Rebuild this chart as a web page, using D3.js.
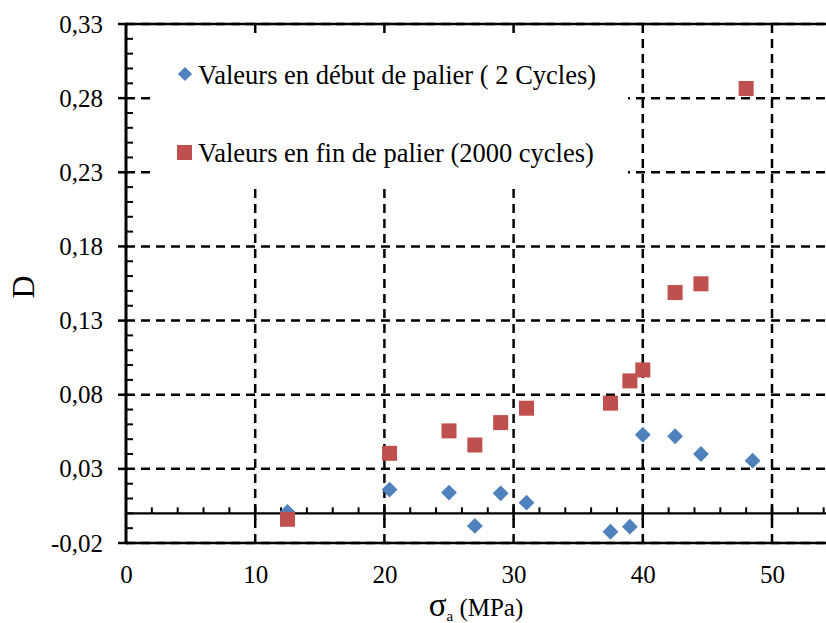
<!DOCTYPE html>
<html><head><meta charset="utf-8">
<script src="https://cdn.jsdelivr.net/npm/d3@7"></script>
<style>html,body{margin:0;padding:0;background:#fff;}
svg{display:block;}
svg text{font-family:"Liberation Serif","Times New Roman",Times,serif !important;}
</style>
</head><body>
<svg id="chart" width="826" height="623"></svg>
<script>
// ---- data ----
const xStart = [12.5, 20.4, 25, 27, 29, 31, 37.5, 39, 40, 42.5, 44.5, 48.5];
const dStart = [0.001, 0.016, 0.014, -0.0085, 0.0135, 0.0072, -0.0124, -0.009, 0.053, 0.052, 0.040, 0.0355];
const xEnd = [12.5, 20.4, 25, 27, 29, 31, 37.5, 39, 40, 42.5, 44.5, 48];
const dEnd = [-0.004, 0.0405, 0.0556, 0.0461, 0.0612, 0.0709, 0.0743, 0.0893, 0.0967, 0.1489, 0.1548, 0.2865];
const seriesNames = ["Valeurs en début de palier ( 2 Cycles)", "Valeurs en fin de palier (2000 cycles)"];
const xTicks = [0, 10, 20, 30, 40, 50];
const xTickLabels = ["0", "10", "20", "30", "40", "50"];
const yTicks = [-0.02, 0.03, 0.08, 0.13, 0.18, 0.23, 0.28, 0.33];
const yTickLabels = ["-0,02", "0,03", "0,08", "0,13", "0,18", "0,23", "0,28", "0,33"];
const yTitle = "D";

// ---- layout ----
const svg = d3.select("#chart");
const L = 126, R = 126 + 12.92 * 55, T = 24, B = 543;
const x = d3.scaleLinear().domain([0, 55]).range([L, R]);
const y = d3.scaleLinear().domain([-0.02, 0.33]).range([B, T]);
const blue = "#4F81BD", red = "#C0504D";
const FONT = '"Liberation Serif","Times New Roman",Times,serif';

const grid = svg.append("g");
grid.selectAll("line.h").data(yTicks).join("line")
  .attr("x1", L).attr("x2", 826).attr("y1", d => y(d)).attr("y2", d => y(d))
  .attr("stroke", "#000").attr("stroke-width", 2.5).attr("stroke-dasharray", "9,6");
grid.selectAll("line.v").data(xTicks.filter(d => d > 0)).join("line")
  .attr("x1", d => x(d)).attr("x2", d => x(d)).attr("y1", T).attr("y2", B)
  .attr("stroke", "#000").attr("stroke-width", 2.5).attr("stroke-dasharray", "9,6");

svg.append("line").attr("x1", L).attr("x2", 826).attr("y1", T).attr("y2", T).attr("stroke", "#000").attr("stroke-width", 2.5);
svg.append("line").attr("x1", L).attr("x2", 826).attr("y1", B).attr("y2", B).attr("stroke", "#000").attr("stroke-width", 2.5);

// legend background (covers grid)
svg.append("rect").attr("x", 150).attr("y", 37).attr("width", 478).attr("height", 152).attr("fill", "#fff");

// x axis at y=0
const y0 = y(0);
svg.append("line").attr("x1", L).attr("x2", 826).attr("y1", y0).attr("y2", y0).attr("stroke", "#000").attr("stroke-width", 2.2);
const minorX = d3.range(2, 56, 2).filter(d => d % 10 !== 0);
svg.selectAll("line.mx").data(minorX).join("line")
  .attr("x1", d => x(d)).attr("x2", d => x(d)).attr("y1", y0 - 6).attr("y2", y0)
  .attr("stroke", "#000").attr("stroke-width", 2);
svg.selectAll("line.Mx").data(xTicks.filter(d => d > 0)).join("line")
  .attr("x1", d => x(d)).attr("x2", d => x(d)).attr("y1", y0 - 7).attr("y2", y0 + 7)
  .attr("stroke", "#000").attr("stroke-width", 2.5);

const xAxis = d3.axisBottom(x).tickValues(xTicks).tickSize(0).tickPadding(0)
  .tickFormat((d, i) => xTickLabels[i]);
const gx = svg.append("g").attr("transform", `translate(0,${B + 22})`).call(xAxis);
gx.attr("font-family", FONT);
gx.select(".domain").remove();
gx.selectAll("text").attr("font-size", 25).attr("fill", "#000");

// y axis
svg.append("line").attr("x1", L).attr("x2", L).attr("y1", T - 1).attr("y2", B + 1).attr("stroke", "#000").attr("stroke-width", 3);
const minorY = d3.range(-0.01, 0.33, 0.01).map(v => +v.toFixed(2)).filter(v => !yTicks.some(t => Math.abs(t - v) < 1e-6));
svg.selectAll("line.my").data(minorY).join("line")
  .attr("x1", L).attr("x2", L + 7).attr("y1", d => y(d)).attr("y2", d => y(d))
  .attr("stroke", "#000").attr("stroke-width", 2);
svg.selectAll("line.My").data(yTicks).join("line")
  .attr("x1", L - 8).attr("x2", L + 2).attr("y1", d => y(d)).attr("y2", d => y(d))
  .attr("stroke", "#000").attr("stroke-width", 2.5);
const yAxis = d3.axisLeft(y).tickValues(yTicks).tickSize(0).tickPadding(0)
  .tickFormat((d, i) => yTickLabels[i]);
const gy = svg.append("g").attr("transform", `translate(${L - 23},0)`).call(yAxis);
gy.attr("font-family", FONT);
gy.select(".domain").remove();
gy.selectAll("text").attr("font-size", 25).attr("fill", "#000");

// axis titles
svg.append("text").attr("transform", "translate(34,287) rotate(-90)").attr("text-anchor", "middle")
  .attr("font-size", 32).text(yTitle);
const xt = svg.append("text").attr("x", 476).attr("y", 616).attr("text-anchor", "middle").attr("font-size", 25);
xt.append("tspan").attr("font-size", 33).text("σ");
xt.append("tspan").attr("font-size", 15).attr("dy", 5).text("a");
xt.append("tspan").attr("dy", -5).text(" (MPa)");

// data points
const sq = 15;
svg.selectAll("path.diamond").data(xStart.map((v, i) => [v, dStart[i]])).join("path")
  .attr("d", d3.symbol(d3.symbolSquare, 125)())
  .attr("transform", d => `translate(${x(d[0])},${y(d[1])}) rotate(45)`)
  .attr("fill", blue);
svg.selectAll("rect.sq").data(xEnd.map((v, i) => [v, dEnd[i]])).join("rect")
  .attr("x", d => x(d[0]) - sq / 2).attr("y", d => y(d[1]) - sq / 2)
  .attr("width", sq).attr("height", sq).attr("fill", red);

// legend
const lg = svg.append("g");
lg.append("path").attr("d", d3.symbol(d3.symbolSquare, 100)()).attr("transform", "translate(185,74) rotate(45)").attr("fill", blue);
lg.append("text").attr("x", 198).attr("y", 84).attr("font-size", 26.5).text(seriesNames[0]);
lg.append("rect").attr("x", 177).attr("y", 145).attr("width", 15).attr("height", 15).attr("fill", red);
lg.append("text").attr("x", 198).attr("y", 162).attr("font-size", 26.5).text(seriesNames[1]);
</script>
</body></html>
